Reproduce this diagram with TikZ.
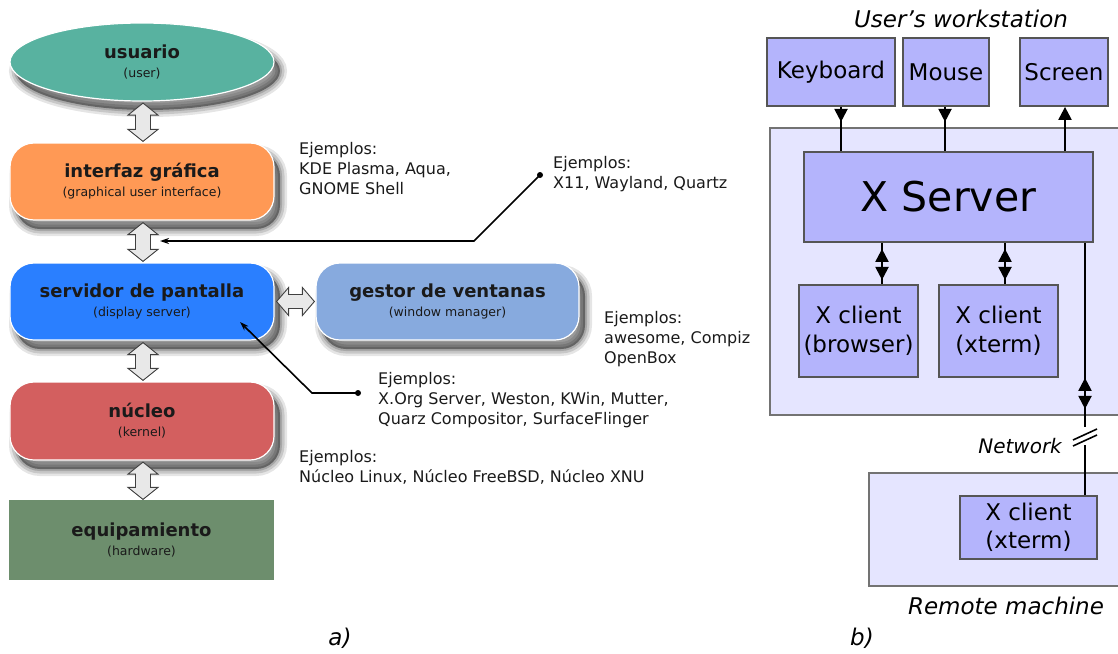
\documentclass[tikz,border=0pt]{standalone}
\usepackage{fontspec}
\setmainfont{DejaVu Sans}
\usetikzlibrary{shapes.geometric,arrows.meta,calc,decorations.markings}
\definecolor{cteal}{RGB}{88,178,160}
\definecolor{corange}{RGB}{255,153,85}
\definecolor{cblue}{RGB}{42,127,255}
\definecolor{clblue}{RGB}{135,170,222}
\definecolor{cred}{RGB}{211,95,95}
\definecolor{cgreen}{RGB}{109,142,109}
\definecolor{cbox}{RGB}{180,180,252}
\definecolor{ccont}{RGB}{229,229,255}
\definecolor{cbord}{RGB}{85,85,85}
\definecolor{ccbord}{RGB}{115,115,115}
\definecolor{cblk}{RGB}{232,232,232}
\definecolor{ctext}{RGB}{26,26,26}
\newcommand\ttl[1]{{\fontsize{18}{19}\selectfont\bfseries #1}}
\newcommand\vblk[2]{\path[blk] let \p1=#1, \p2=#2 in (\x1,\y1) -- (\x1+15pt,\y1-12pt) -- (\x1+7.5pt,\y1-12pt) -- (\x1+7.5pt,\y2+12pt) -- (\x1+15pt,\y2+12pt) -- (\x1,\y2) -- (\x1-15pt,\y2+12pt) -- (\x1-7.5pt,\y2+12pt) -- (\x1-7.5pt,\y1-12pt) -- (\x1-15pt,\y1-12pt) -- cycle;}
\newcommand\hblk[2]{\path[blk] let \p1=#1, \p2=#2 in (\x1,\y1) -- (\x1+12pt,\y1+14pt) -- (\x1+12pt,\y1+7pt) -- (\x2-12pt,\y1+7pt) -- (\x2-12pt,\y1+14pt) -- (\x2,\y1) -- (\x2-12pt,\y1-14pt) -- (\x2-12pt,\y1-7pt) -- (\x1+12pt,\y1-7pt) -- (\x1+12pt,\y1-14pt) -- cycle;}
\tikzset{
  Tri/.tip={Triangle[width=13pt,length=13pt]},
  layer/.style={rounded corners=24pt, minimum width=264pt, minimum height=77pt, inner sep=0pt,
    draw=white, line width=1.2pt, align=center, text=ctext,
    font=\fontsize{12.5}{19}\selectfont},
  shad/.style={
    preaction={draw=black, fill=none, draw opacity=0.1, line width=14pt, transform canvas={shift={(6pt,-9pt)}}},
    preaction={draw=black, fill=none, draw opacity=0.13, line width=9pt, transform canvas={shift={(6pt,-9pt)}}},
    preaction={draw=black, fill=none, draw opacity=0.16, line width=4pt, transform canvas={shift={(6pt,-9pt)}}},
    preaction={fill=black, draw=none, fill opacity=0.4, transform canvas={shift={(6pt,-9pt)}}}},
  blk/.style={fill=cblk, draw=black!75, line width=0.9pt, line join=miter},
  conn/.style={draw=black, line width=1.6pt, -{Stealth[length=9pt,width=6pt]}},
  dotc/.style={circle, fill=black, inner sep=0pt, minimum size=6pt},
  exmp/.style={anchor=north west, inner sep=0pt, align=left, text=ctext, font=\fontsize{16}{20}\selectfont},
  xbox/.style={draw=cbord, line width=1.8pt, fill=cbox, inner sep=0pt, align=center,
    font=\fontsize{23}{28.5}\selectfont},
  cont/.style={draw=ccbord, line width=1.4pt, fill=ccont, inner sep=0pt},
  wline/.style={draw=black, line width=2.2pt},
  downat/.style={postaction={decorate}, decoration={markings, mark=at position #1 with {\arrow{Tri}}}},
  bothat/.style 2 args={postaction={decorate}, decoration={markings,
     mark=at position #1 with {\arrowreversed{Tri}}, mark=at position #2 with {\arrow{Tri}}}},
  lab/.style={inner sep=0pt, font=\fontsize{23}{27}\selectfont\itshape}
}
\begin{document}
\begin{tikzpicture}[x=1pt,y=1pt]
\clip (0,0) rectangle (1118,-653);
\fill[white] (0,0) rectangle (1118,-653);

% ---------- a) ----------
\node[layer, shad, ellipse, rounded corners=0pt, fill=cteal, minimum height=78pt] (usr) at (142,-62) {\ttl{usuario}\\(user)};
\node[layer, shad, fill=corange] (gui) at (142,-181.5) {\ttl{interfaz gráfica}\\(graphical user interface)};
\node[layer, shad, fill=cblue] (srv) at (142,-301.5) {\ttl{servidor de pantalla}\\(display server)};
\node[layer, shad, fill=clblue, minimum width=263pt] (wm) at (447.5,-301.5) {\ttl{gestor de ventanas}\\(window manager)};
\node[layer, shad, fill=cred, minimum height=78pt] (nuc) at (142,-421) {\ttl{núcleo}\\(kernel)};
\node[layer, fill=cgreen, rounded corners=0pt, draw=none, minimum width=265pt, minimum height=80pt] (hw) at (141.5,-540) {\ttl{equipamiento}\\(hardware)};

\vblk{($(usr.south)+(1,-1.5)$)}{($(gui.north)+(1,1)$)}
\vblk{($(gui.south)+(1,-2)$)}{($(srv.north)+(1,1)$)}
\vblk{($(srv.south)+(1,-2)$)}{($(nuc.north)+(1,1)$)}
\vblk{($(nuc.south)+(1,-1.5)$)}{($(hw.north)+(1,0)$)}
\hblk{($(srv.east)+(2,0)$)}{($(wm.west)+(-1,0)$)}

\node[exmp] (e1) at (299,-142) {Ejemplos:\\KDE Plasma, Aqua,\\GNOME Shell};
\node[exmp] (e2) at (553,-156) {Ejemplos:\\X11, Wayland, Quartz};
\node[exmp] (e3) at (604,-311) {Ejemplos:\\awesome, Compiz\\OpenBox};
\node[exmp] (e4) at (378,-372) {Ejemplos:\\X.Org Server, Weston, KWin, Mutter,\\Quarz Compositor, SurfaceFlinger};
\node[exmp] (e5) at (299,-450) {Ejemplos:\\Núcleo Linux, Núcleo FreeBSD, Núcleo XNU};

\node[dotc] (d2) at (540,-175) {};
\coordinate (k2) at (474,-241);
\coordinate (t2) at (160,-241);
\draw[conn] (d2.center) -- (k2) -- (t2);
\node[dotc] (d4) at (358,-393) {};
\coordinate (k4) at (312,-393);
\coordinate (t4) at (240,-322);
\draw[conn] (d4.center) -- (k4) -- (t4);

\node[lab] (la) at (340,-638) {a)};

% ---------- b) ----------
\node[lab] (ttlws) at (961,-19) {User’s workstation};
\node[cont, minimum width=360pt, minimum height=287pt] (ws) at (950,-271.5) {};
\node[xbox, minimum width=128pt, minimum height=68pt] (kb) at (831,-72) {Keyboard};
\node[xbox, minimum width=86pt, minimum height=68pt] (ms) at (946,-72) {Mouse};
\node[xbox, minimum width=88pt, minimum height=68pt] (scr) at (1064,-72) {Screen};
\node[xbox, minimum width=289pt, minimum height=90pt, font=\fontsize{41}{45}\selectfont] (xs) at (948.5,-197) {X Server};
\node[xbox, minimum width=119pt, minimum height=92pt] (xcb) at (858.5,-331) {X client\\(browser)};
\node[xbox, minimum width=119pt, minimum height=92pt] (xct) at (998.5,-331) {X client\\(xterm)};

\node[cont, minimum width=261pt, minimum height=113pt] (rm) at (999.5,-529.5) {};
\node[xbox, minimum width=137pt, minimum height=63pt] (xcr) at (1028.5,-527.5) {X client\\(xterm)};

\draw[wline, downat=15pt] ([xshift=10pt]kb.south) -- ([xshift=10pt]kb.south |- xs.north);
\draw[wline, downat=15pt] ([xshift=-1pt]ms.south) -- ([xshift=-1pt]ms.south |- xs.north);
\draw[wline, -{Tri}] ([xshift=1pt]scr.south |- xs.north) -- ([xshift=1pt]scr.south);
\draw[wline, bothat={6pt}{37pt}] (xs.south -| 882,0) -- (xcb.north -| 882,0);
\draw[wline, bothat={6pt}{37pt}] (xs.south -| 1005,0) -- (xct.north -| 1005,0);

\coordinate (nb1) at (1085,-427);
\coordinate (nb2) at (1085,-445);
\draw[wline, bothat={135pt}{166pt}] (xs.south -| nb1) -- (nb1);
\draw[wline] (nb2) -- (xcr.north -| nb2);
\draw[line width=1.6pt] (1073,-440) -- (1097,-429);
\draw[line width=1.6pt] (1073,-446) -- (1097,-435);

\node[lab, font=\fontsize{20}{24}\selectfont\itshape, anchor=east] (net) at (1062,-446) {Network};
\node[lab] (rml) at (1006,-606) {Remote machine};
\node[lab] (lb) at (862,-638) {b)};
\end{tikzpicture}
\end{document}
